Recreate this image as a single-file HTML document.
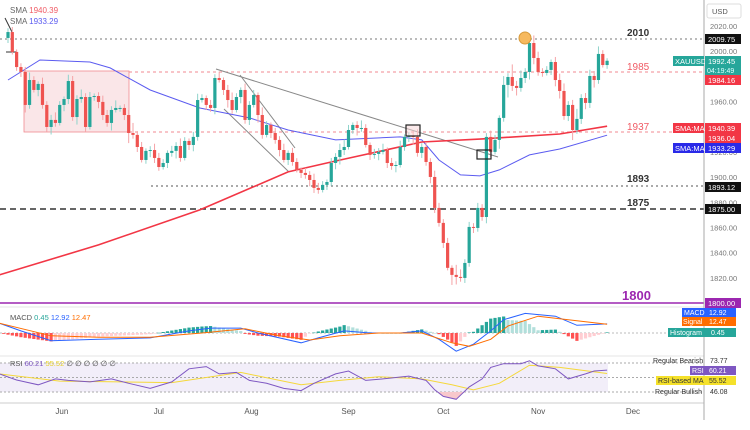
<!DOCTYPE html>
<html><head><meta charset="utf-8"><style>
html,body{margin:0;padding:0;background:#fff;width:750px;height:430px;overflow:hidden}
svg{display:block;font-family:"Liberation Sans",sans-serif}
</style></head><body>
<svg id="chart" width="750" height="430" viewBox="0 0 750 430" xmlns="http://www.w3.org/2000/svg">
<rect x="0" y="0" width="750" height="430" fill="#fff"/>
<g id="ann">
  <rect x="24" y="71" width="105" height="61" fill="#f7d6d8" fill-opacity="0.6" stroke="#f08a90" stroke-width="0.8"/>
  <line x1="0" y1="39" x2="704" y2="39" stroke="#777" stroke-dasharray="2,3"/>
  <line x1="129" y1="72" x2="704" y2="72" stroke="#f08a90" stroke-dasharray="3,3"/>
  <line x1="129" y1="132" x2="704" y2="132" stroke="#f08a90" stroke-dasharray="3,3"/>
  <line x1="151" y1="186" x2="704" y2="186" stroke="#555" stroke-dasharray="2,3"/>
  <line x1="0" y1="209" x2="704" y2="209" stroke="#333" stroke-width="1.4" stroke-dasharray="6,4"/>
  <line x1="0" y1="303" x2="704" y2="303" stroke="#9c27b0" stroke-width="1.4"/>
  <line x1="216" y1="69" x2="498" y2="157" stroke="#888"/>
  <line x1="240" y1="75" x2="295" y2="148" stroke="#888"/>
  <line x1="224" y1="109" x2="289" y2="172" stroke="#888"/>
  <line x1="5" y1="18" x2="12" y2="32" stroke="#333"/>
  <line x1="6" y1="52" x2="17" y2="52" stroke="#333"/>
</g>
<g id="smas"></g>
<g id="candles"></g>
<g>
  <rect x="406" y="125" width="14" height="11" fill="#f7d6d8" fill-opacity="0.5" stroke="#222" stroke-width="1.2"/>
  <rect x="477" y="150" width="14" height="9" fill="none" stroke="#222" stroke-width="1.2"/>
  <circle cx="525" cy="38" r="6" fill="#f6b95e" stroke="#d79a3a"/>
</g>
<g font-size="10" font-weight="bold">
  <text x="627" y="36" fill="#333">2010</text>
  <text x="627" y="70" fill="#f05a64" font-weight="normal">1985</text>
  <text x="627" y="130" fill="#f05a64" font-weight="normal">1937</text>
  <text x="627" y="182" fill="#333">1893</text>
  <text x="627" y="206" fill="#333">1875</text>
  <text x="622" y="300" fill="#9c27b0" font-size="13">1800</text>
</g>
<g font-size="8">
  <text x="10" y="13" fill="#666">SMA <tspan fill="#f05a64">1940.39</tspan></text>
  <text x="10" y="24" fill="#666">SMA <tspan fill="#5a5af0">1933.29</tspan></text>
</g>
<line x1="0" y1="307" x2="704" y2="307" stroke="#e6e6e6"/>
<line x1="0" y1="356" x2="704" y2="356" stroke="#e6e6e6"/>
<g id="macd"></g>
<g id="rsi"></g>
<line x1="0" y1="403" x2="704" y2="403" stroke="#ccc"/>
<line x1="704" y1="0" x2="704" y2="420" stroke="#aaa"/>
<g id="axis" font-size="7.5" fill="#666"></g>
<g id="xaxis" font-size="8" fill="#555"></g>
<g id="tags" font-size="7.5"></g>
</svg>
<script>
// ---- data ----
const closes = [2015.2,1999.4,1987.4,1983.5,1957.3,1977.1,1969.2,1974.0,1957.3,1939.8,
1945.4,1943.0,1957.3,1962.0,1976.3,1947.7,1962.0,1963.6,1939.8,1963.6,
1964.4,1959.7,1949.3,1943.0,1953.3,1954.9,1954.9,1949.3,1935.0,1933.5,
1923.9,1913.6,1920.8,1921.5,1915.2,1908.0,1911.2,1919.2,1920.8,1924.7,
1915.2,1928.7,1925.5,1931.9,1961.2,1962.8,1957.3,1954.9,1978.7,1977.1,
1969.2,1961.2,1953.3,1963.6,1969.2,1945.4,1957.3,1965.2,1949.3,1933.5,
1941.4,1935.0,1929.5,1921.5,1913.6,1919.2,1912.0,1905.7,1903.3,1901.7,
1897.7,1891.4,1889.8,1893.8,1896.1,
1911.2,1916.0,1921.5,1923.9,1937.4,1941.4,1939.0,1939.0,1925.5,1917.6,
1918.4,1920.0,1921.5,1911.2,1908.8,1909.6,1923.9,1931.9,1932.7,1931.9,
1919.2,1923.9,1912.0,1900.1,1875.5,1863.6,1847.7,1827.9,1822.3,1820.7,
1819.9,1831.8,1860.4,1859.6,1875.5,1868.3,1931.9,1920.0,1929.5,1947.0,
1973.2,1979.5,1972.4,1970.8,1978.7,1983.5,2006.5,1994.6,1983.5,1982.7,
1985.1,1991.4,1977.1,1968.4,1948.5,1957.3,1937.4,1946.2,1962.8,1958.9,
1980.3,1977.1,1997.8,1989.0,1992.4];
const firstOpen = 2010.5;
const wick = [3,4,2,3,4,6,3,2,5,3, 4,6,3,2,5,4,3,6,3,4, 2,3,5,4,3,6,2,3,4,8,
3,4,2,3,5,4,3,2,4,3, 6,3,2,4,5,3,2,4,3,5, 2,4,6,3,2,5,3,4,2,6, 3,2,4,3,5,2,4,3,2,4,
3,5,4,3,2, 4,3,5,6,4,2,3,6,3,2, 4,3,5,2,4,3,5,2,3,4, 6,3,4,3,5,4,3,4,2,8,
6,3,4,3,4,3,3,5,4,2, 7,3,10,4,6,3,4,6,5,3, 3,2,4,5,6,3,4,8,3,4, 5,4,6,3,2];
const smaRedIdx = [-2,21,44.5,65,75,96,110,128,139];
const smaRedVal = [1822.3,1846.1,1873.9,1904.1,1912,1927.9,1930.3,1934.2,1940.4];
const smaBlueIdx = [0,7.4,19,23.7,33,44.5,56,65,76,91,96,100,105,109.5,114,121,128,139];
const smaBlueVal = [1977.1,1993,1991.4,1986.7,1969.2,1954.9,1947,1937.4,1929.5,1931.9,1929.5,1913.6,1901.7,1900.9,1905.7,1917.6,1922.3,1933.3];
const macdIdx = [-2,3,10,21,33,42,47,54,58,68,72,78,84,91,96,100,104,108,112,115,120,127,132,139];
const macdVal = [14,3,-11,-9,-7,3,7,7,0,-14,-7,3,0,0,3,-9,-26,-16,3,19,28,24,11,13];
const sigIdx = [-2,10,21,33,45,55,63,70,77,86,96,103,107,112,116,123,130,139];
const sigVal = [14,-4,-6,-6,0,6,-4,-10,-4,0,0,-14,-19,-9,10,24,19,12.5];
const rsiIdx = [-2,2,7,11,14,19,24,28,33,38,42,46,49,53,56,60,64,68,71,76,79,83,87,93,97,99,101,104,107,110,112,115,119,121,123,127,130,134,136,139];
const rsiVal = [55,46.6,40,48,46,44,48,42,35,44,62,65,55,57,46,42,35,32,42,55,59,46,48,52,46,33,24,20,37,48,64,69,69,73,66,62,48,55,59,60.2];
const rsiMaIdx = [-2,12,26,38,54,68,77,86,96,103,108,114,121,128,139];
const rsiMaVal = [55,45,44,43,57,40,46,51,48,40,33,42,67,64,55.5];
const priceTicks = [2020,2000,1980,1960,1940,1920,1900,1880,1860,1840,1820];
const monthLabels = ["Jun","Jul","Aug","Sep","Oct","Nov","Dec"];
const monthIdx = [12.5,35,56.5,79,101,123,145];

// ---- scales ----
const NS = "http://www.w3.org/2000/svg";
const xOf = i => 8 + i * 4.31;
const yP = p => 26 + (2020 - p) * 1.259;
const yM = v => 333 - v * 0.7;
const yH = v => 333 - v * 1.2;
const yR = v => 377.5 - (v - 50) * 0.725;
function mk(tag, attrs, parent){const e=document.createElementNS(NS,tag);for(const k in attrs)e.setAttribute(k,attrs[k]);parent.appendChild(e);return e;}
function interp(idx, val, i){
  if(i<=idx[0])return val[0];
  for(let k=1;k<idx.length;k++){if(i<=idx[k]){const t=(i-idx[k-1])/(idx[k]-idx[k-1]);return val[k-1]+t*(val[k]-val[k-1]);}}
  return val[val.length-1];
}
function pathFrom(idx,val,xf,yf){return idx.map((d,k)=>(k?"L":"M")+xf(Math.max(d,-2)).toFixed(1)+","+yf(val[k]).toFixed(1)).join("");}

// ---- SMAs ----
const gS=document.getElementById("smas");
let p1=mk("path",{d:pathFrom(smaBlueIdx,smaBlueVal,xOf,yP),fill:"none",stroke:"#5b5bf0","stroke-width":1},gS);


let p2=mk("path",{d:pathFrom(smaRedIdx,smaRedVal,xOf,yP),fill:"none",stroke:"#f23645","stroke-width":1.6},gS);



// ---- candles ----
const gC=document.getElementById("candles");
closes.forEach((c,i)=>{
  const o=i===0?firstOpen:closes[i-1];
  const up=c>=o;
  const col=up?"#26a69a":"#ef5350";
  const hi=Math.max(o,c)+wick[i], lo=Math.min(o,c)-wick[(i+1)%wick.length];
  const x=xOf(i);
  const g=mk("g",{},gC);
  
  
  mk("line",{x1:x,x2:x,y1:yP(hi),y2:yP(lo),stroke:up?"#8fd3cb":"#f5a3a6","stroke-width":1},g);
  const yt=yP(Math.max(o,c)), yb=yP(Math.min(o,c));
  mk("rect",{x:x-1.6,y:yt,width:3.2,height:Math.max(1,yb-yt),fill:col},g);
});

// ---- MACD ----
const gM=document.getElementById("macd");
let z=mk("line",{x1:0,x2:704,y1:yM(0),y2:yM(0),stroke:"#bbb","stroke-dasharray":"2,2"},gM);


let prevH=0;
for(let i=-1;i<closes.length;i++){
  const h=interp(macdIdx,macdVal,i)-interp(sigIdx,sigVal,i);
  const col=h>=0?(h>=prevH?"#26a69a":"#b2dfdb"):(h<prevH?"#ff5252":"#ffcdd2");
  prevH=h;
  const b=mk("rect",{x:xOf(i)-1.6,y:Math.min(yH(0),yH(h)),width:3.2,height:Math.max(0.6,Math.abs(yH(h)-yH(0))),fill:col},gM);
  
  
}
let ml=mk("path",{d:pathFrom(macdIdx,macdVal,xOf,yM),fill:"none",stroke:"#2962ff","stroke-width":1},gM);


let sl=mk("path",{d:pathFrom(sigIdx,sigVal,xOf,yM),fill:"none",stroke:"#ff6d00","stroke-width":1},gM);



// ---- RSI ----
const gR=document.getElementById("rsi");
let bg=mk("rect",{x:0,y:yR(70),width:608,height:yR(30)-yR(70),fill:"#ede7f6","fill-opacity":0.7},gR);


[70,50,30].forEach(v=>{
  const l=mk("line",{x1:0,x2:704,y1:yR(v),y2:yR(v),stroke:"#aaa","stroke-dasharray":"2,2"},gR);
  
  
});
let os="";
for(let i=99;i<=108;i+=0.5){const v=interp(rsiIdx,rsiVal,i);os+=(os?"L":"M")+xOf(i).toFixed(1)+","+yR(Math.min(v,30)).toFixed(1);}
os+="L"+xOf(108).toFixed(1)+","+yR(30)+"L"+xOf(99).toFixed(1)+","+yR(30)+"Z";
let of=mk("path",{d:os,fill:"#f8c8cc"},gR);


let rma=mk("path",{d:pathFrom(rsiMaIdx,rsiMaVal,xOf,yR),fill:"none",stroke:"#f5d83a","stroke-width":1},gR);


let rl=mk("path",{d:pathFrom(rsiIdx,rsiVal,xOf,yR),fill:"none",stroke:"#7e57c2","stroke-width":1},gR);



// ---- axes ----
const gA=document.getElementById("axis");
priceTicks.forEach(p=>{
  const t=mk("text",{x:710,y:yP(p)+3,fill:"#777"},gA);t.textContent=p.toFixed(2);
  
  
});
const gX=document.getElementById("xaxis");
monthLabels.forEach((m,k)=>{
  const t=mk("text",{x:xOf(monthIdx[k]),y:414,"text-anchor":"middle",fill:"#555"},gX);t.textContent=m;
  
  
});
</script>
<div style="position:absolute;left:0;top:0;width:750px;height:430px;pointer-events:none">
<svg width="750" height="430" font-family="Liberation Sans, sans-serif" font-size="7.5">
  <rect x="707" y="4" width="34" height="14" rx="2" fill="#fff" stroke="#ddd"/>
  <text x="712" y="14" fill="#555" font-size="7.5">USD</text>
  <g>
    <rect x="705" y="34" width="36" height="10" fill="#111"/><text x="708" y="42" fill="#fff">2009.75</text>
    <rect x="673" y="56" width="31" height="10" fill="#26a69a"/><text x="675" y="64" fill="#fff">XAUUSD</text>
    <rect x="705" y="56" width="36" height="19" fill="#26a69a"/><text x="708" y="64" fill="#fff">1992.45</text><text x="707" y="73" fill="#dff" font-size="7">04:19:49</text>
    <rect x="705" y="75" width="36" height="10" fill="#f23645"/><text x="708" y="83" fill="#fff">1984.16</text>
    <rect x="673" y="123" width="31" height="10" fill="#f23645"/><text x="675" y="131" fill="#fff">SMA:MA</text>
    <rect x="705" y="123" width="36" height="10" fill="#f23645"/><text x="708" y="131" fill="#fff">1940.39</text>
    <rect x="705" y="133" width="36" height="10" fill="#f23645"/><text x="708" y="141" fill="#fff">1936.04</text>
    <rect x="673" y="143" width="31" height="10" fill="#2a2ae8"/><text x="675" y="151" fill="#fff">SMA:MA</text>
    <rect x="705" y="143" width="36" height="10" fill="#2a2ae8"/><text x="708" y="151" fill="#fff">1933.29</text>
    <rect x="705" y="182" width="36" height="10" fill="#111"/><text x="708" y="190" fill="#fff">1893.12</text>
    <rect x="705" y="204" width="36" height="10" fill="#111"/><text x="708" y="212" fill="#fff">1875.00</text>
    <rect x="705" y="298" width="36" height="10" fill="#9c27b0"/><text x="708" y="306" fill="#fff">1800.00</text>
    <rect x="682" y="308" width="23" height="9" fill="#2962ff"/><text x="684" y="315" fill="#fff" font-size="7">MACD</text>
    <rect x="705" y="308" width="31" height="9" fill="#2962ff"/><text x="709" y="315" fill="#fff" font-size="7">12.92</text>
    <rect x="682" y="317" width="23" height="9" fill="#ff6d00"/><text x="683" y="324" fill="#fff" font-size="7">Signal</text>
    <rect x="705" y="317" width="31" height="9" fill="#ff6d00"/><text x="709" y="324" fill="#fff" font-size="7">12.47</text>
    <rect x="668" y="328" width="37" height="9" fill="#26a69a"/><text x="670" y="335" fill="#fff" font-size="7">Histogram</text>
    <rect x="705" y="328" width="31" height="9" fill="#26a69a"/><text x="711" y="335" fill="#fff" font-size="7">0.45</text>
    <text x="653" y="363" fill="#333" font-size="7">Regular Bearish</text><text x="710" y="363" fill="#333" font-size="7">73.77</text>
    <rect x="690" y="366" width="15" height="9" fill="#7e57c2"/><text x="692" y="373" fill="#fff" font-size="7">RSI</text>
    <rect x="705" y="366" width="31" height="9" fill="#7e57c2"/><text x="709" y="373" fill="#fff" font-size="7">60.21</text>
    <rect x="656" y="376" width="49" height="9" fill="#f5e12a"/><text x="658" y="383" fill="#333" font-size="7">RSI-based MA</text>
    <rect x="705" y="376" width="31" height="9" fill="#f5e12a"/><text x="709" y="383" fill="#333" font-size="7">55.52</text>
    <text x="655" y="394" fill="#333" font-size="7">Regular Bullish</text><text x="710" y="394" fill="#333" font-size="7">46.08</text>
  </g>
  <text x="10" y="320" font-size="7.5" fill="#555">MACD <tspan fill="#26a69a">0.45</tspan> <tspan fill="#2962ff">12.92</tspan> <tspan fill="#ff6d00">12.47</tspan></text>
  <text x="10" y="366" font-size="7.5" fill="#555">RSI <tspan fill="#7e57c2">60.21</tspan> <tspan fill="#e6cf2a">55.52</tspan> ∅ ∅ ∅ ∅ ∅ ∅</text>
</svg>
</div>
</body></html>
